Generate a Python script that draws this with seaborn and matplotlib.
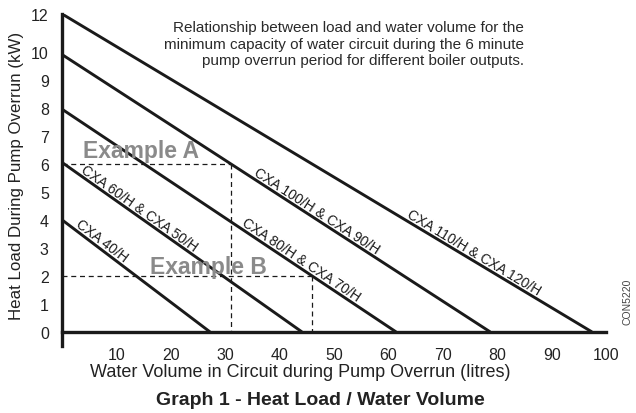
import numpy as np
import pandas as pd
import matplotlib
matplotlib.use("Agg")
import matplotlib.pyplot as plt
import seaborn as sns

# boiler groups: heat load at zero volume (kW) and volume at zero load (litres)
boilers = ["CXA 40/H", "CXA 60/H & CXA 50/H", "CXA 80/H & CXA 70/H",
           "CXA 100/H & CXA 90/H", "CXA 110/H & CXA 120/H"]
load_kw = [4.0, 6.05, 7.95, 9.9, 12.0]
volume_l = [27.2, 44.1, 61.4, 78.7, 97.4]
label_x = [6.4, 13.4, 43.2, 46.1, 75.0]

# worked examples: (volume, load)
examples = ["Example A", "Example B"]
example_load = [6.0, 2.0]
example_vol = [31.0, 46.0]

x_ticks = [10, 20, 30, 40, 50, 60, 70, 80, 90, 100]
y_ticks = [0, 1, 2, 3, 4, 5, 6, 7, 8, 9, 10, 12]

sns.set_theme(style="white")
plt.rcParams["font.family"] = ["Liberation Sans", "DejaVu Sans"]

fig = plt.figure(figsize=(6.36, 4.14), dpi=100)
ax = fig.add_axes([0.0975, 0.162, 0.8555, 0.802])


# the printed chart squeezes the 10-12 kW band on the y axis
def fwd(y):
    y = np.asarray(y, dtype=float)
    return np.where(y <= 10, y, 10 + (y - 10) * 0.675)


def inv(y):
    y = np.asarray(y, dtype=float)
    return np.where(y <= 10, y, 10 + (y - 10) / 0.675)


ax.set_yscale("function", functions=(fwd, inv))
ax.set_xlim(0, 100)
ax.set_ylim(-0.5, 12)

ink = "#1a1a1a"
for name, load, vol in zip(boilers, load_kw, volume_l):
    df = pd.DataFrame({"volume": [0, vol], "load": [load, 0]})
    sns.lineplot(data=df, x="volume", y="load", ax=ax, color=ink, lw=2.1,
                 solid_capstyle="butt")

# dashed guide lines for the examples
for vol, load in zip(example_vol, example_load):
    ax.plot([0, vol], [load, load], color=ink, lw=0.9, ls=(0, (4, 3)))
    ax.plot([vol, vol], [load, 0], color=ink, lw=0.9, ls=(0, (4, 3)))

ax.text(14.5, 6.25, examples[0], color="#8a8a8a", fontsize=16.5,
        fontweight="bold", ha="center", va="baseline")
ax.text(27.0, 2.1, examples[1], color="#8a8a8a", fontsize=16.5,
        fontweight="bold", ha="center", va="baseline")

# labels along each line
fig.canvas.draw()
for name, load, vol, xc in zip(boilers, load_kw, volume_l, label_x):
    p0 = ax.transData.transform((0, load))
    p1 = ax.transData.transform((vol, 0))
    d = p1 - p0
    ang = np.degrees(np.arctan2(d[1], d[0]))
    pt = p0 + d * (xc / vol)
    n = np.array([-d[1], d[0]]) / np.hypot(*d)
    xy = ax.transData.inverted().transform(pt)
    ax.annotate(name, xy=xy, xytext=(n[0] * 3.5, n[1] * 3.5),
                textcoords="offset pixels", rotation=ang,
                rotation_mode="anchor", ha="center", va="baseline",
                fontsize=10, color=ink)

ax.text(0.849, 0.982,
        "Relationship between load and water volume for the\n"
        "minimum capacity of water circuit during the 6 minute\n"
        "pump overrun period for different boiler outputs.",
        transform=ax.transAxes, ha="right", va="top", multialignment="right",
        fontsize=11, color="#2a2a2a", linespacing=1.25)

# axes styling
for side in ["top", "right"]:
    ax.spines[side].set_visible(False)
ax.spines["left"].set_position(("data", 0))
ax.spines["bottom"].set_position(("data", 0))
ax.spines["left"].set_linewidth(2.4)
ax.spines["bottom"].set_linewidth(2.4)
ax.spines["left"].set_color(ink)
ax.spines["bottom"].set_color(ink)

ax.set_xticks(x_ticks)
ax.set_yticks(y_ticks)
ax.set_yticklabels([str(v) for v in y_ticks])
ax.tick_params(axis="both", direction="out", length=8, width=1, color=ink,
               labelsize=11.5, labelcolor="#222222", pad=1.5)
ax.tick_params(axis="x", length=7, pad=3.5)
ax.minorticks_off()

ax.set_xlabel("Water Volume in Circuit during Pump Overrun (litres)",
              fontsize=13, color="#222222")
ax.xaxis.set_label_coords(0.4375, -0.052)
ax.set_ylabel("Heat Load During Pump Overrun (kW)", fontsize=12.2,
              color="#222222")
ax.yaxis.set_label_coords(-0.07, 0.515)

fig.text(0.503, 0.022, "Graph 1 - Heat Load / Water Volume", ha="center",
         va="baseline", fontsize=14, fontweight="bold", color="#222222")
fig.text(0.986, 0.27, "CON5220", rotation=90, ha="center", va="center",
         fontsize=7.5, color="#444444")

fig.savefig("out.png", dpi=100)
